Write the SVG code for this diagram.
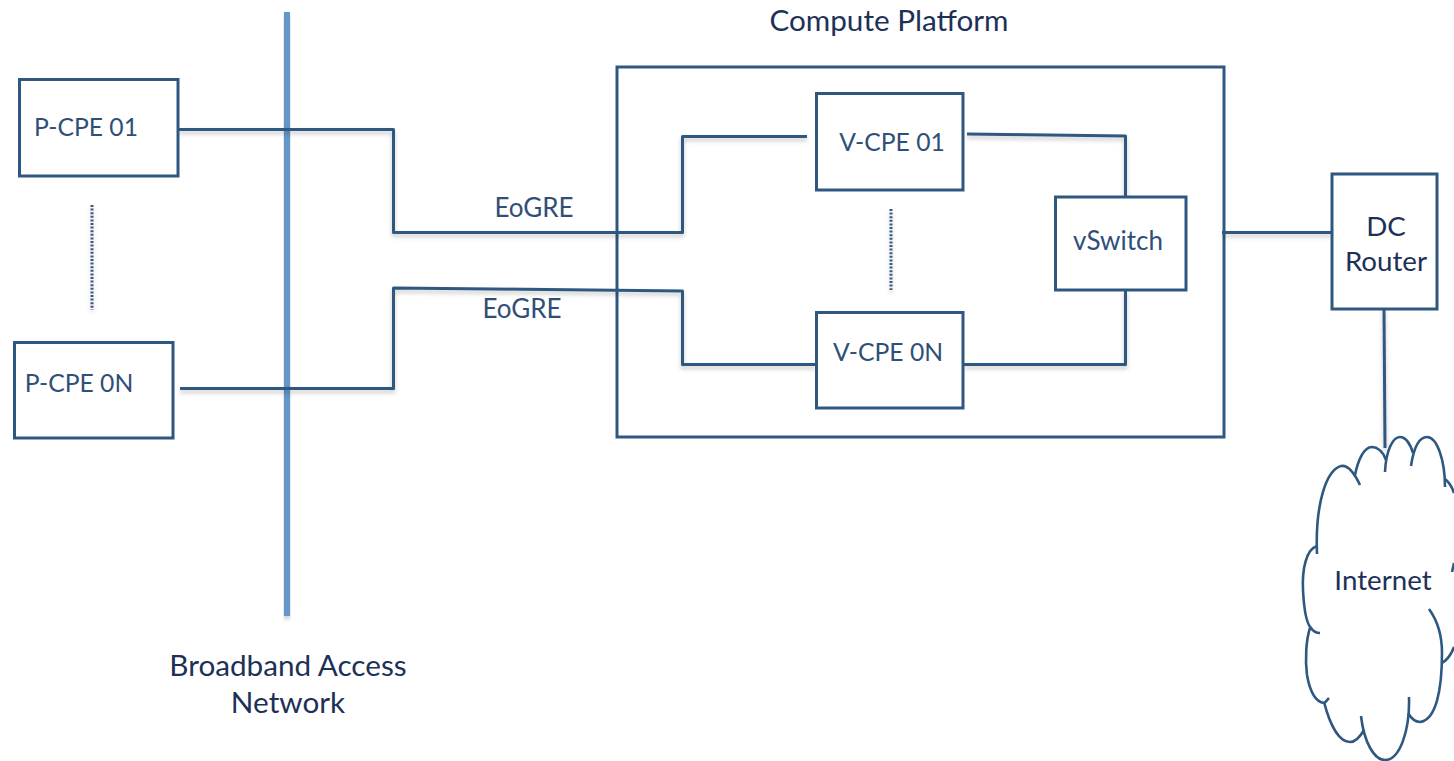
<svg xmlns="http://www.w3.org/2000/svg" width="1454" height="761" viewBox="0 0 1454 761">
<defs>
<filter id="sh" x="-5%" y="-5%" width="110%" height="110%"><feDropShadow dx="0" dy="3" stdDeviation="2" flood-color="#000" flood-opacity="0.22"/></filter>
</defs>
<style>
.b{fill:#fff;stroke:#2f5880;stroke-width:3}
.l{fill:none;stroke:#2f5880;stroke-width:3;stroke-linejoin:round}
.c{fill:none;stroke:#2f5880;stroke-width:2.6;stroke-linecap:butt}
.d{fill:none;stroke:#3a5a80;stroke-width:3;stroke-dasharray:2 1.6}
text{font-family:"Lato","Liberation Sans",sans-serif;font-size:26px;fill:#1d3157;text-anchor:middle}
.n{fill:#2f4f78}
.s{font-size:24.7px}
.m{font-size:27.7px}
.x{font-size:29.7px}
</style>
<rect width="1454" height="761" fill="#fff"/>
<g id="bar"><rect x="284" y="12" width="6" height="604" fill="#6497c9" filter="url(#sh)"/></g>
<g id="compute-platform"><rect class="b" x="617" y="67" width="607" height="370" style="fill:none"/></g>
<g id="connectors" filter="url(#sh)">
<path class="l" d="M178 129.500H393.500V232.500H682.500V136.500H807"/>
<path class="l" d="M180 388.500H393.500V288L682.500 291V364.500H816"/>
<path class="l" d="M967 134L1125.500 136V197"/>
<path class="l" d="M964 364.500H1125.500V290"/>
<path class="l" d="M1222 232.500H1332"/>
<path class="l" d="M1384 309L1385 448"/>
<path class="d" d="M92 205V310"/>
<path class="d" d="M891 209V290"/>
</g>
<g id="p-cpe-01"><rect class="b" x="19.500" y="79.500" width="158.500" height="96.500"/><text class="n s" x="86" y="136">P-CPE 01</text></g>
<g id="p-cpe-0n"><rect class="b" x="14.500" y="342.500" width="158.500" height="95.500"/><text class="n s" x="79" y="392">P-CPE 0N</text></g>
<g id="v-cpe-01"><rect class="b" x="816.500" y="93.500" width="146.500" height="96.500"/><text class="n s" x="892" y="151">V-CPE 01</text></g>
<g id="v-cpe-0n"><rect class="b" x="816.500" y="312.500" width="146.500" height="95.500"/><text class="n s" x="888" y="361">V-CPE 0N</text></g>
<g id="vswitch"><rect class="b" x="1055.500" y="197" width="130.500" height="93"/><text class="n" x="1118" y="250">vSwitch</text></g>
<g id="dc-router"><rect class="b" x="1332" y="174" width="105" height="135"/><text class="m" x="1386" y="236">DC</text><text class="m" x="1386" y="271">Router</text></g>
<g id="internet">
<path class="c" d="M1360 485C1352 468 1346 465 1341 466C1326 470 1315 505 1317 554"/>
<path class="c" d="M1317 546C1306 549 1302 570 1303 590C1304 610 1307 624 1311 628C1313 631 1317 633 1320 633"/>
<path class="c" d="M1310 628C1306 640 1305 660 1307 675C1310 692 1316 702 1324 703C1326 702 1327 700 1329 698"/>
<path class="c" d="M1324 702C1330 725 1339 742 1350 742C1355 742 1360 737 1364 730"/>
<path class="c" d="M1361 716C1364 742 1374 760 1385 760C1400 760 1410 730 1409 697"/>
<path class="c" d="M1408 713C1411 718 1415 722 1420 722C1436 720 1442 690 1442 653C1442 635 1437 620 1429 609"/>
<path class="c" d="M1442 663C1447 660 1451 655 1454 647"/>
<path class="c" d="M1452 572L1454 563"/>
<path class="c" d="M1445 479C1449 482 1452 487 1454 493"/>
<path class="c" d="M1445 487C1445 460 1437 437 1427 437C1420 437 1414 446 1411 466"/>
<path class="c" d="M1413 453C1410 443 1405 437 1400 437C1393 437 1386 450 1385 472"/>
<path class="c" d="M1386 460C1383 451 1377 447 1372 447C1364 447 1358 460 1355 475"/>
<text class="m" x="1383" y="590">Internet</text>
</g>
<g id="labels">
<text class="x" x="889" y="31">Compute Platform</text>
<text x="534" y="217" class="n">EoGRE</text>
<text x="522" y="318" class="n">EoGRE</text>
<text class="x" x="288" y="676">Broadband Access</text>
<text class="x" x="288" y="713">Network</text>
</g>
</svg>
